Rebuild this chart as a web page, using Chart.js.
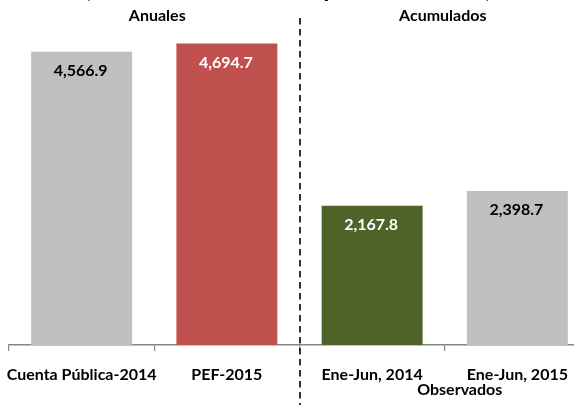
<!DOCTYPE html>
<html>
<head>
<meta charset="utf-8">
<script src="https://cdn.jsdelivr.net/npm/chart.js@4/dist/chart.umd.min.js"></script>
<style>
html,body{margin:0;padding:0;background:#fff;overflow:hidden;width:574px;height:405px;}
#wrap{position:absolute;left:0;top:0;width:600px;height:405px;}
</style>
</head>
<body>
<div id="wrap"><canvas id="c" width="600" height="405"></canvas></div>
<script>
const categories = ['Cuenta Pública-2014', 'PEF-2015', 'Ene-Jun, 2014', 'Ene-Jun, 2015'];
const values = [4566.9, 4694.7, 2167.8, 2398.7];
const valueLabels = ['4,566.9', '4,694.7', '2,167.8', '2,398.7'];
const groupLabels = ['Anuales', 'Acumulados'];
const subLabel = 'Observados';
const titleText = '(Miles de millones de pesos de 2015)';

const barColors = ['#BFBFBF', '#C0504D', '#4F6228', '#BFBFBF'];
const labelColors = ['#000000', '#FFFFFF', '#FFFFFF', '#000000'];
const FONT = 'Lato, "Open Sans", sans-serif';

const overlay = {
  id: 'overlay',
  afterDatasetsDraw(chart) {
    const ctx = chart.ctx;
    const meta = chart.getDatasetMeta(0);
    const xs = chart.scales.x;
    ctx.save();
    ctx.textAlign = 'center';
    ctx.textBaseline = 'middle';
    ctx.font = 'bold 16px ' + FONT;
    meta.data.forEach((bar, i) => {
      ctx.fillStyle = labelColors[i];
      ctx.fillText(valueLabels[i], bar.x - 1, bar.y + 19);
    });
    // dashed divider
    const xd = Math.round((xs.getPixelForValue(1) + xs.getPixelForValue(2)) / 2);
    ctx.strokeStyle = '#000';
    ctx.lineWidth = 1.6;
    ctx.setLineDash([6.5, 4.5]);
    ctx.beginPath();
    ctx.moveTo(xd, 18);
    ctx.lineTo(xd, 405);
    ctx.stroke();
    ctx.setLineDash([]);
    // group headers
    ctx.fillStyle = '#000';
    ctx.font = 'bold 16px ' + FONT;
    const c0 = xs.getPixelForValue(0), c1 = xs.getPixelForValue(1), c2 = xs.getPixelForValue(2), c3 = xs.getPixelForValue(3);
    ctx.fillText(groupLabels[0], (c0 + c1) / 2 + 3, 16);
    ctx.fillText(groupLabels[1], (c2 + c3) / 2 - 2, 16);
    ctx.fillText(subLabel, (c2 + c3) / 2 + 15, 390);
    // clipped title
    ctx.font = 'bold 25px ' + FONT;
    ctx.textBaseline = 'alphabetic';
    ctx.fillText(titleText, 288, -3);
    ctx.restore();
  }
};

new Chart(document.getElementById('c'), {
  type: 'bar',
  data: {
    labels: categories,
    datasets: [{
      data: values,
      backgroundColor: barColors,
      borderWidth: 0,
      categoryPercentage: 1,
      barPercentage: 0.695
    }]
  },
  options: {
    responsive: false,
    animation: false,
    events: [],
    layout: { padding: { top: 24, left: 9, right: 10, bottom: 0 } },
    plugins: { legend: { display: false }, tooltip: { enabled: false }, title: { display: false } },
    scales: {
      y: { display: false, min: 0, max: 5000 },
      x: {
        afterFit(s) { s.height = 60; s.paddingLeft = 0; s.paddingRight = 0; },
        border: { display: true, color: '#868686', width: 1.5 },
        grid: { display: true, drawOnChartArea: false, drawTicks: true, tickLength: 6, color: '#868686', lineWidth: 1.2 },
        ticks: { color: '#000', font: { family: FONT, size: 16, weight: 'bold' }, padding: 14, maxRotation: 0, autoSkip: false }
      }
    }
  },
  plugins: [overlay]
});
</script>
</body>
</html>
